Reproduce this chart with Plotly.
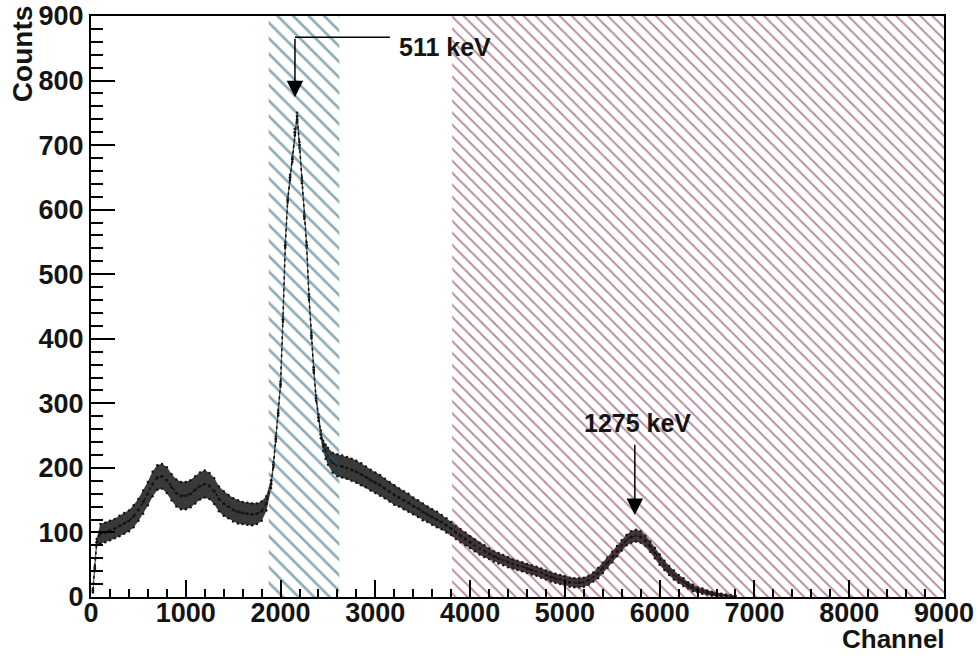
import plotly.graph_objects as go

# ---------------- data ----------------
channel = (
    [20, 40, 60]
    + list(range(100, 1901, 50))
    + list(range(1925, 2476, 25))
    + list(range(2500, 6801, 50))
)

counts = [
    10, 45, 85,
    # 100 .. 1900 (step 50)
    98, 100, 103, 106, 110, 114, 118, 125, 135, 147,
    160, 175, 185, 187, 181, 170, 161, 157, 157, 160,
    166, 172, 175, 172, 164, 152, 145, 140, 135, 132,
    130, 129, 128, 129, 133, 145, 175,
    # 1925 .. 2475 (step 25)
    205, 245, 285, 330, 430, 545, 615, 650, 678, 720,
    745, 700, 645, 590, 545, 465, 405, 352, 308, 278,
    252, 234, 225,
    # 2500 .. 6800 (step 50)
    218, 208, 204, 202, 200, 197, 194, 190, 186, 181,
    177, 173, 168, 163, 158, 154, 150, 146, 141, 137,
    132, 128, 124, 120, 116, 111, 106, 100, 95, 90,
    85, 80, 75, 71, 67, 63, 60, 57, 54, 51,
    49, 47, 44, 42, 40, 37, 34, 31, 29, 27,
    25, 23, 22, 22, 23, 26, 31, 37, 45, 53,
    62, 71, 80, 88, 93, 95, 93, 87, 78, 68,
    58, 49, 41, 34, 28, 23, 18, 14, 11, 9,
    7, 5, 4, 3, 2, 1, 0,
]

# half-width of the scattered band of points (counts)
spread = [
    3, 3, 5,
    15, 15, 15, 15, 16, 16, 16, 17, 17, 18,
    18, 19, 19, 19, 20, 20, 21, 21, 21, 21,
    21, 21, 21, 20, 20, 19, 19, 18, 18, 18,
    17, 17, 17, 16, 15, 11, 6,
    4, 4, 4, 4, 4, 4, 4, 4, 4, 5,
    5, 5, 4, 4, 4, 4, 4, 4, 4, 5,
    6, 8, 11,
    13, 15, 17, 17, 17, 17, 17, 17, 16, 16,
    16, 16, 15, 15, 15, 14, 14, 14, 13, 13,
    13, 12, 12, 12, 11, 11, 10, 10, 10, 10,
    9, 9, 9, 9, 8, 8, 8, 8, 8, 7,
    7, 7, 7, 7, 7, 7, 7, 7, 7, 7,
    7, 7, 7, 7, 7, 7, 7, 8, 8, 8,
    8, 8, 8, 8, 9, 9, 9, 8, 8, 8,
    8, 7, 7, 7, 6, 6, 5, 5, 4, 4,
    3, 3, 3, 2, 2, 2, 2,
]

# shaded windows (channel ranges)
window_names = ["511 keV window", "1275 keV window"]
window_start = [1875, 3810]
window_end = [2620, 9000]

# annotations: (label, peak channel)
peak_labels = ["511 keV", "1275 keV"]
peak_channel = [2152, 5738]

assert len(channel) == len(counts) == len(spread)

# ---------------- figure ----------------
Y_MAX = 900
X_MAX = 9000
FONT = "Liberation Sans, Arial, Helvetica, sans-serif"
INK = "#141414"

lower = [max(c - s, 0) for c, s in zip(counts, spread)]
upper = [c + s for c, s in zip(counts, spread)]

fig = go.Figure()

# band of scattered points
fig.add_trace(go.Scatter(x=channel, y=lower, mode="lines",
                         line=dict(color="rgba(30,30,30,0.6)", width=0.6),
                         showlegend=False, hoverinfo="skip"))
fig.add_trace(go.Scatter(x=channel, y=upper, mode="lines", fill="tonexty",
                         fillcolor="rgba(22,22,22,0.85)",
                         line=dict(color="rgba(30,30,30,0.6)", width=0.6),
                         showlegend=False, hoverinfo="skip"))
fig.add_trace(go.Scatter(x=channel, y=lower, mode="markers",
                         marker=dict(size=2.5, color=INK),
                         showlegend=False, hoverinfo="skip"))
fig.add_trace(go.Scatter(x=channel, y=upper, mode="markers",
                         marker=dict(size=2.5, color=INK),
                         showlegend=False, hoverinfo="skip"))
fig.add_trace(go.Scatter(x=channel, y=counts, mode="lines+markers",
                         line=dict(color=INK, width=1.6, dash="dot"),
                         marker=dict(size=3, color=INK),
                         showlegend=False, name="Counts"))

# hatched windows
hatch_colors = ["#1c5876", "#761c43"]
hatch_sizes = [11, 8.5]
for name, x0, x1, col, sz in zip(window_names, window_start, window_end,
                                  hatch_colors, hatch_sizes):
    fig.add_trace(go.Scatter(
        x=[x0, x1, x1, x0, x0], y=[0, 0, Y_MAX, Y_MAX, 0],
        mode="lines", line=dict(width=0, color="rgba(0,0,0,0)"),
        fill="toself", fillcolor="rgba(0,0,0,0)",
        fillpattern=dict(shape="\\", fgcolor=col, bgcolor="rgba(0,0,0,0)",
                         size=sz, solidity=0.24),
        name=name, showlegend=False, hoverinfo="skip"))

# 511 keV elbow arrow
fig.add_shape(type="line", x0=peak_channel[0], x1=3154, y0=867, y1=867,
              line=dict(color="black", width=1.5))
fig.add_annotation(x=peak_channel[0], y=774, ax=peak_channel[0], ay=867,
                   xref="x", yref="y", axref="x", ayref="y", text="",
                   showarrow=True, arrowhead=2, arrowsize=2.2, arrowwidth=1.5,
                   arrowcolor="black", standoff=0)
fig.add_annotation(x=3228, y=852, xref="x", yref="y", text=peak_labels[0],
                   showarrow=False, xanchor="left", yanchor="middle",
                   font=dict(family=FONT, size=25, color=INK, weight="bold"))

# 1275 keV arrow
fig.add_annotation(x=peak_channel[1], y=127, ax=peak_channel[1], ay=238,
                   xref="x", yref="y", axref="x", ayref="y", text="",
                   showarrow=True, arrowhead=2, arrowsize=2.2, arrowwidth=1.5,
                   arrowcolor="black", standoff=0)
fig.add_annotation(x=5770, y=269, xref="x", yref="y", text=peak_labels[1],
                   showarrow=False, xanchor="center", yanchor="middle",
                   font=dict(family=FONT, size=25, color=INK, weight="bold"))

# axis titles (ROOT style)
fig.add_annotation(x=-0.080, y=1.02, xref="paper", yref="paper", text="Counts",
                   textangle=-90, showarrow=False, xanchor="center", yanchor="top",
                   font=dict(family=FONT, size=28, color=INK, weight="bold"))
fig.add_annotation(x=1.003, y=-0.0723, xref="paper", yref="paper", text="Channel",
                   showarrow=False, xanchor="right", yanchor="middle",
                   font=dict(family=FONT, size=26, color=INK, weight="bold"))

axis_common = dict(
    showgrid=False, zeroline=False, showline=True, linecolor="black",
    linewidth=2, mirror=True, ticks="inside", tickcolor="black", tickwidth=2,
    ticklabeloverflow="allow", automargin=False,
    tickfont=dict(family=FONT, size=27, color=INK, weight="bold"),
)
fig.update_xaxes(range=[0, X_MAX], dtick=1000, tick0=0, ticklen=17,
                 ticklabelstandoff=-9,
                 minor=dict(dtick=200, ticklen=8, ticks="inside",
                            tickcolor="black", tickwidth=2),
                 **axis_common)
fig.update_yaxes(range=[0, Y_MAX], dtick=100, tick0=0, ticklen=24,
                 minor=dict(dtick=20, ticklen=12, ticks="inside",
                            tickcolor="black", tickwidth=2),
                 **axis_common)

fig.update_layout(
    width=980, height=658,
    margin=dict(l=91, r=36, t=16, b=61, autoexpand=False),
    plot_bgcolor="white", paper_bgcolor="white",
    showlegend=False,
)

# remove the default 8 px page margin so the figure sits at the window origin
fig.write_html("out.html",
               config={"displayModeBar": False},
               post_script="document.body.style.margin='0';"
                           "document.body.style.overflow='hidden';")
